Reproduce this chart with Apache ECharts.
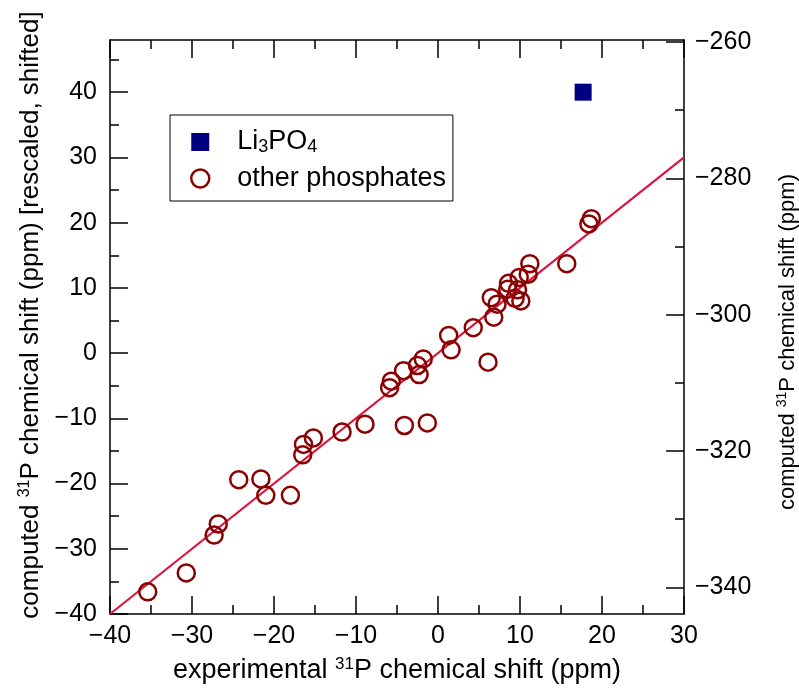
<!DOCTYPE html>
<html>
<head>
<meta charset="utf-8">
<script src="https://cdn.jsdelivr.net/npm/echarts@6/dist/echarts.min.js"></script>
<style>
html,body{margin:0;padding:0;background:#fff;}
#chart{width:799px;height:689px;}
</style>
</head>
<body>
<div id="chart"></div>
<script>
// experimental 31P shift (ppm) for other phosphates
const expShift = [-35.4, -30.7, -27.3, -26.8, -24.3, -21.6, -21.0, -18.0, -16.5, -16.4,
  -15.2, -11.7, -8.9, -4.1, -1.3, -5.9, -5.7, -4.2, -2.5, -2.3,
  -1.8, 1.3, 1.6, 4.3, 6.1, 6.5, 6.8, 7.2, 8.6, 8.5,
  9.4, 9.7, 9.9, 10.1, 11.0, 11.2, 15.7, 18.4, 18.7];
// computed (rescaled, shifted) shift (ppm)
const compShift = [-36.6, -33.7, -27.9, -26.2, -19.4, -19.3, -21.8, -21.8, -15.6, -14.0,
  -13.0, -12.1, -10.9, -11.1, -10.7, -5.3, -4.3, -2.7, -1.9, -3.3,
  -0.9, 2.7, 0.5, 3.9, -1.4, 8.5, 5.5, 7.5, 10.7, 9.8,
  8.4, 9.7, 11.6, 8.0, 12.1, 13.7, 13.7, 19.8, 20.6];
const li3po4Exp = [17.7];
const li3po4Comp = [40.0];
const fitX = [-40, 30];
const fitY = [-40, 30];

const xTicks = [-40, -30, -20, -10, 0, 10, 20, 30];
const leftMajor = [-40, -30, -20, -10, 0, 10, 20, 30, 40];
const leftMinor = [-35, -25, -15, -5, 5, 15, 25, 35, 45];
const rightMajor = [-340, -320, -300, -280, -260];
const rightMinor = [-330, -310, -290, -270];

const FONT = 'Liberation Sans, Arial, Helvetica, sans-serif';
const fmt = v => String(v).replace('-', '\u2212');

const others = expShift.map((x, i) => [x, compShift[i]]);
const li = li3po4Exp.map((x, i) => [x, li3po4Comp[i]]);
const fit = fitX.map((x, i) => [x, fitY[i]]);

const lineStyle = {color: '#000', width: 1.5};
const tickStyle = {color: '#000', width: 1.5};
function rich(size, supSize) {
  return {
    a: {fontSize: size, fontFamily: FONT, color: '#000', lineHeight: size + 3},
    s: {fontSize: supSize, fontFamily: FONT, color: '#000', lineHeight: supSize + 3, verticalAlign: 'top'}
  };
}

const chart = echarts.init(document.getElementById('chart'), null, {renderer: 'canvas'});
chart.setOption({
  backgroundColor: '#fff',
  animation: false,
  textStyle: {fontFamily: FONT},
  grid: {left: 110, right: 115, top: 40, bottom: 75, containLabel: false, outerBoundsMode: 'none'},
  legend: {
    left: 170, top: 115,
    orient: 'vertical',
    borderColor: '#000', borderWidth: 1,
    padding: [9, 7, 9, 20],
    itemWidth: 18, itemHeight: 18,
    itemGap: 9,
    data: [
      {name: 'Li3PO4', icon: 'rect', itemStyle: {color: '#000080', borderWidth: 0, opacity: 1}},
      {name: 'other phosphates', icon: 'circle', itemStyle: {color: 'rgba(0,0,0,0)', borderColor: '#8b0000', borderWidth: 2.5}}
    ],
    formatter: function (name) {
      if (name === 'Li3PO4') return '{a|Li}{b|3}{a|PO}{b|4}';
      return '{a|other phosphates}';
    },
    textStyle: {
      padding: [0, 0, 0, 23],
      rich: {
        a: {fontSize: 27, fontFamily: FONT, color: '#000', lineHeight: 28},
        b: {fontSize: 18, fontFamily: FONT, color: '#000', lineHeight: 14, verticalAlign: 'bottom', padding: [14, 0, 0, 0]}
      }
    }
  },
  xAxis: [
    {
      type: 'value', position: 'bottom', min: -40, max: 30, interval: 10,
      axisLine: {show: true, onZero: false, lineStyle: lineStyle},
      axisTick: {show: true, inside: true, length: 18, lineStyle: tickStyle},
      minorTick: {show: true, splitNumber: 2, length: 9, lineStyle: tickStyle},
      splitLine: {show: false},
      axisLabel: {fontSize: 25, color: '#000', margin: 10, fontFamily: FONT, formatter: fmt},
      name: '{a|experimental }{s|31}{a|P chemical shift (ppm)}',
      nameLocation: 'middle', nameGap: 42,
      nameTextStyle: {rich: rich(27, 17)}
    },
    {
      type: 'value', position: 'top', min: -40, max: 30, interval: 10,
      axisLine: {show: true, onZero: false, lineStyle: lineStyle},
      axisTick: {show: true, inside: true, length: 18, lineStyle: tickStyle},
      minorTick: {show: true, splitNumber: 2, length: 9, lineStyle: tickStyle},
      splitLine: {show: false},
      axisLabel: {show: false}
    }
  ],
  yAxis: [
    {
      type: 'value', position: 'left', min: -40, max: 48, interval: 10,
      axisLine: {show: true, onZero: false, lineStyle: lineStyle},
      axisTick: {show: true, inside: true, length: 18, lineStyle: tickStyle, customValues: leftMajor},
      splitLine: {show: false},
      axisLabel: {fontSize: 25, color: '#000', margin: 13, fontFamily: FONT, formatter: fmt, customValues: leftMajor},
      name: '{a|computed }{s|31}{a|P chemical shift (ppm) [rescaled, shifted]}',
      nameLocation: 'middle', nameGap: 52, nameRotate: 90,
      nameTextStyle: {padding: [0, 0, 0, 24], rich: rich(26, 16)}
    },
    {
      type: 'value', position: 'left', min: -40, max: 48, interval: 10,
      axisLine: {show: false, onZero: false},
      axisTick: {show: true, inside: true, length: 9, lineStyle: tickStyle, customValues: leftMinor},
      splitLine: {show: false},
      axisLabel: {show: false}
    },
    {
      type: 'value', position: 'right', min: -343.9, max: -259.7, interval: 20,
      axisLine: {show: true, onZero: false, lineStyle: lineStyle},
      axisTick: {show: true, inside: true, length: 18, lineStyle: tickStyle, customValues: rightMajor},
      splitLine: {show: false},
      axisLabel: {fontSize: 25, color: '#000', margin: 11, fontFamily: FONT, formatter: fmt, customValues: rightMajor},
      name: '{a|computed }{s|31}{a|P chemical shift (ppm)}',
      nameLocation: 'middle', nameGap: 91, nameRotate: 90,
      nameTextStyle: {padding: [0, 30, 0, 0], rich: rich(22, 14)}
    },
    {
      type: 'value', position: 'right', min: -343.9, max: -259.7, interval: 20,
      axisLine: {show: false, onZero: false},
      axisTick: {show: true, inside: true, length: 9, lineStyle: tickStyle, customValues: rightMinor},
      splitLine: {show: false},
      axisLabel: {show: false}
    }
  ],
  series: [
    {
      name: 'fit', type: 'line', data: fit, xAxisIndex: 0, yAxisIndex: 0,
      showSymbol: false, symbol: 'none',
      lineStyle: {color: '#dc143c', width: 2.2}, z: 1, silent: true
    },
    {
      name: 'other phosphates', type: 'scatter', data: others, xAxisIndex: 0, yAxisIndex: 0,
      symbol: 'circle', symbolSize: 17,
      itemStyle: {color: 'rgba(0,0,0,0)', borderColor: '#8b0000', borderWidth: 2.5, opacity: 1}, z: 2
    },
    {
      name: 'Li3PO4', type: 'scatter', data: li, xAxisIndex: 0, yAxisIndex: 0,
      symbol: 'rect', symbolSize: 17,
      itemStyle: {color: '#000080', opacity: 1}, z: 3
    }
  ]
});
</script>
</body>
</html>
